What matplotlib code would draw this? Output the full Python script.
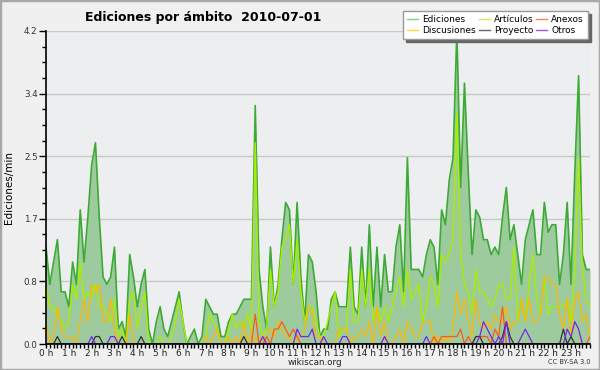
import numpy as np
import matplotlib
matplotlib.use("Agg")
import matplotlib.pyplot as plt
from matplotlib.lines import Line2D
from matplotlib.patches import Rectangle

ediciones = [
    1.3, 0.8, 1.1, 1.4, 0.7, 0.7, 0.5, 1.1, 0.8, 1.8,
    1.1, 1.7, 2.4, 2.7, 1.7, 0.9, 0.8, 0.9, 1.3, 0.2,
    0.3, 0.1, 1.2, 0.9, 0.5, 0.8, 1.0, 0.2, 0.0, 0.3,
    0.5, 0.2, 0.1, 0.3, 0.5, 0.7, 0.3, 0.0, 0.1, 0.2,
    0.0, 0.1, 0.6, 0.5, 0.4, 0.4, 0.1, 0.1, 0.3, 0.4,
    0.4, 0.5, 0.6, 0.6, 0.6, 3.2, 1.0, 0.5, 0.2, 1.3,
    0.5, 0.8, 1.4, 1.9, 1.8, 0.8, 1.9, 0.9, 0.3, 1.2,
    1.1, 0.7, 0.1, 0.2, 0.2, 0.6, 0.7, 0.5, 0.5, 0.5,
    1.3, 0.5, 0.4, 1.3, 0.5, 1.6, 0.5, 1.3, 0.5, 1.2,
    0.7, 0.7, 1.3, 1.6, 0.7, 2.5, 1.0, 1.0, 1.0, 0.9,
    1.2, 1.4, 1.3, 0.8, 1.8, 1.6, 2.2, 2.5, 4.2, 2.1,
    3.5, 2.3, 1.2, 1.8, 1.7, 1.4, 1.4, 1.2, 1.3, 1.2,
    1.7, 2.1, 1.4, 1.6, 1.2, 0.8, 1.4, 1.6, 1.8, 1.2,
    1.2, 1.9, 1.5, 1.6, 1.6, 0.8, 1.2, 1.9, 0.8, 2.3,
    3.6, 1.2, 1.0, 1.0,
]
articulos = [
    0.8, 0.5, 0.5, 0.4, 0.3, 0.2, 0.3, 0.8, 0.6, 1.1,
    0.6, 0.7, 0.6, 0.8, 0.5, 0.5, 0.4, 0.3, 0.6, 0.1,
    0.2, 0.0, 0.6, 0.7, 0.2, 0.5, 0.7, 0.0, 0.0, 0.0,
    0.1, 0.0, 0.0, 0.1, 0.3, 0.6, 0.3, 0.0, 0.0, 0.0,
    0.0, 0.0, 0.1, 0.4, 0.3, 0.2, 0.0, 0.0, 0.2, 0.4,
    0.2, 0.3, 0.2, 0.4, 0.2, 2.7, 0.3, 0.1, 0.2, 1.0,
    0.5, 0.7, 1.3, 1.4, 1.6, 0.8, 1.4, 0.7, 0.3, 0.5,
    0.5, 0.3, 0.1, 0.1, 0.3, 0.5, 0.7, 0.1, 0.2, 0.2,
    1.0, 0.3, 0.3, 1.0, 0.5, 1.0, 0.3, 0.5, 0.3, 0.5,
    0.3, 0.5, 0.7, 0.9, 0.5, 1.0, 0.6, 0.7, 0.8, 0.3,
    0.5, 0.9, 0.8, 0.5, 1.2, 1.1, 1.2, 1.4, 3.1, 1.2,
    0.8, 0.7, 0.4, 1.0, 0.7, 0.7, 0.6, 0.5, 0.6, 0.8,
    0.8, 0.6, 0.6, 1.3, 0.3, 0.6, 0.3, 0.8, 1.2, 0.6,
    0.4, 0.9, 0.4, 0.5, 0.5, 0.5, 0.5, 0.6, 0.3, 1.0,
    2.5, 1.0, 0.6, 0.5,
]
discusiones = [
    0.3, 0.0, 0.1, 0.5, 0.2, 0.1, 0.1, 0.1, 0.0, 0.3,
    0.6, 0.3, 0.8, 0.7, 0.8, 0.3, 0.3, 0.6, 0.2, 0.0,
    0.0, 0.0, 0.4, 0.0, 0.0, 0.0, 0.0, 0.0, 0.0, 0.0,
    0.0, 0.0, 0.0, 0.0, 0.0, 0.0, 0.0, 0.0, 0.0, 0.0,
    0.0, 0.0, 0.1, 0.0, 0.1, 0.2, 0.0, 0.0, 0.1, 0.0,
    0.1, 0.0, 0.3, 0.0, 0.2, 0.0, 0.1, 0.0, 0.1, 0.2,
    0.1, 0.3, 0.2, 0.1, 0.1, 0.0, 0.1, 0.1, 0.2, 0.5,
    0.4, 0.1, 0.1, 0.0, 0.0, 0.0, 0.0, 0.2, 0.2, 0.2,
    0.0, 0.1, 0.1, 0.2, 0.1, 0.3, 0.0, 0.5, 0.1, 0.3,
    0.0, 0.0, 0.1, 0.2, 0.0, 0.3, 0.2, 0.1, 0.1, 0.3,
    0.3, 0.3, 0.0, 0.1, 0.0, 0.1, 0.0, 0.2, 0.7, 0.4,
    0.6, 0.3, 0.1, 0.6, 0.3, 0.2, 0.3, 0.2, 0.4, 0.3,
    0.3, 0.5, 0.2, 0.3, 0.3, 0.6, 0.3, 0.6, 0.3, 0.3,
    0.4, 0.9, 0.9, 0.8, 0.8, 0.4, 0.2, 0.6, 0.1, 0.6,
    0.7, 0.3, 0.4, 0.1,
]
anexos = [0.0] * 144
for i, v in {55: 0.4, 58: 0.1, 60: 0.2, 61: 0.2, 62: 0.3, 63: 0.2, 64: 0.1,
             65: 0.2, 66: 0.1, 102: 0.1, 104: 0.1, 105: 0.1, 106: 0.1,
             107: 0.1, 108: 0.1, 109: 0.2, 111: 0.1, 113: 0.1, 114: 0.1,
             115: 0.1, 116: 0.1, 118: 0.2, 119: 0.1, 120: 0.5, 143: 0.1}.items():
    anexos[i] = v
proyecto = [0.0] * 144
for i, v in {3: 0.1, 13: 0.1, 14: 0.1, 20: 0.1, 25: 0.1, 52: 0.1,
             113: 0.1, 114: 0.1, 120: 0.1, 121: 0.3, 122: 0.1,
             136: 0.2, 138: 0.1}.items():
    proyecto[i] = v
otros = [0.0] * 144
for i, v in {12: 0.1, 17: 0.1, 18: 0.1, 57: 0.1, 66: 0.2, 67: 0.1, 68: 0.1,
             69: 0.1, 70: 0.2, 73: 0.1, 78: 0.1, 79: 0.1, 89: 0.1, 100: 0.1,
             114: 0.1, 115: 0.3, 116: 0.2, 117: 0.1, 119: 0.1, 121: 0.3,
             125: 0.1, 126: 0.2, 127: 0.1, 137: 0.2, 138: 0.1, 139: 0.3,
             140: 0.2}.items():
    otros[i] = v

hours = list(range(24))
hour_labels = [f"{h} h" for h in hours]
y_ticks = [0.0, 0.84, 1.68, 2.52, 3.36, 4.2]
y_labels = ["0.0", "0.8", "1.7", "2.5", "3.4", "4.2"]

W, H = 600, 370
fig = plt.figure(figsize=(6, 3.7), dpi=100)
fig.patch.set_facecolor("#F0F0F0")
fig.patches.append(Rectangle((0, 0), 1, 1, transform=fig.transFigure,
                             fill=False, edgecolor="#A8A8A8", linewidth=2.5))

ax = fig.add_axes([46 / W, 1 - 344 / H, 544 / W, 313 / H])
ax.set_facecolor("#EDEEF0")

x = np.arange(len(ediciones)) / 6.0
ax.fill_between(x, 0, ediciones, color="#9DCB9D", linewidth=0, zorder=1)
ax.plot(x, ediciones, color="#3DAA35", lw=1.2, zorder=3)
ax.plot(x, articulos, color="#A8EE00", lw=1.0, zorder=3)
ax.plot(x, discusiones, color="#FFB800", lw=0.9, zorder=3)
ax.plot(x, anexos, color="#FF5A14", lw=0.9, zorder=3)
ax.plot(x, proyecto, color="#333333", lw=0.9, zorder=3)
ax.plot(x, otros, color="#7A22F0", lw=0.9, zorder=3)

ax.set_xlim(0, (len(ediciones) - 1) / 6.0)
ax.set_ylim(0, 4.2)

for s in ("top", "right"):
    ax.spines[s].set_visible(False)
for s in ("left", "bottom"):
    ax.spines[s].set_color("black")
    ax.spines[s].set_linewidth(1.2)
    ax.spines[s].set_zorder(4)

ax.set_yticks(y_ticks)
ax.set_yticklabels(y_labels)
ax.set_yticks(np.arange(0, 4.2001, 0.21), minor=True)
ax.set_xticks(hours)
ax.set_xticklabels(hour_labels)
ax.set_xticks(x, minor=True)
ax.tick_params(axis="y", which="major", length=5, width=1, labelsize=6.3,
               labelcolor="#333333", pad=1)
ax.tick_params(axis="y", which="minor", length=3, width=1)
ax.tick_params(axis="x", which="both", length=3, width=1, labelsize=6.5,
               labelcolor="#222222", pad=0.5)
ax.grid(axis="y", which="major", color="#C8C8C8", lw=1, zorder=0)
ax.set_axisbelow(True)

ax.set_ylabel("Ediciones/min", fontsize=7.5)
ax.yaxis.set_label_coords(-32 / 544, 0.5)

fig.text(85 / W, 1 - 17 / H, "Ediciones por ámbito  2010-07-01",
         fontsize=9, fontweight="bold", ha="left", va="center")
fig.text(315 / W, 1 - 362.5 / H, "wikiscan.org", fontsize=6.3,
         ha="center", va="center", color="#222222")
fig.text(591 / W, 1 - 362 / H, "CC BY-SA 3.0", fontsize=4.8,
         ha="right", va="center", color="#333333")

handles = [
    Line2D([], [], color="#86CF86", lw=1),
    Line2D([], [], color="#FFD24A", lw=1),
    Line2D([], [], color="#CDEE55", lw=1),
    Line2D([], [], color="#666666", lw=1),
    Line2D([], [], color="#FF8050", lw=1),
    Line2D([], [], color="#9A55EE", lw=1),
]
labels = ["Ediciones", "Discusiones", "Artículos", "Proyecto", "Anexos", "Otros"]
leg = fig.legend(handles, labels, ncol=3, loc="upper left",
                 bbox_to_anchor=(403 / W, 1 - 11 / H),
                 fontsize=6.5, frameon=True, fancybox=False,
                 shadow={"color": "#666666", "alpha": 1},
                 handlelength=1.2, handletextpad=0.45, columnspacing=0.35,
                 labelspacing=0.2, borderpad=0.45, borderaxespad=0)
leg.get_frame().set_edgecolor("#999999")
leg.get_frame().set_linewidth(1)
leg.set_zorder(10)

fig.savefig("out.png", dpi=100, facecolor=fig.get_facecolor())
